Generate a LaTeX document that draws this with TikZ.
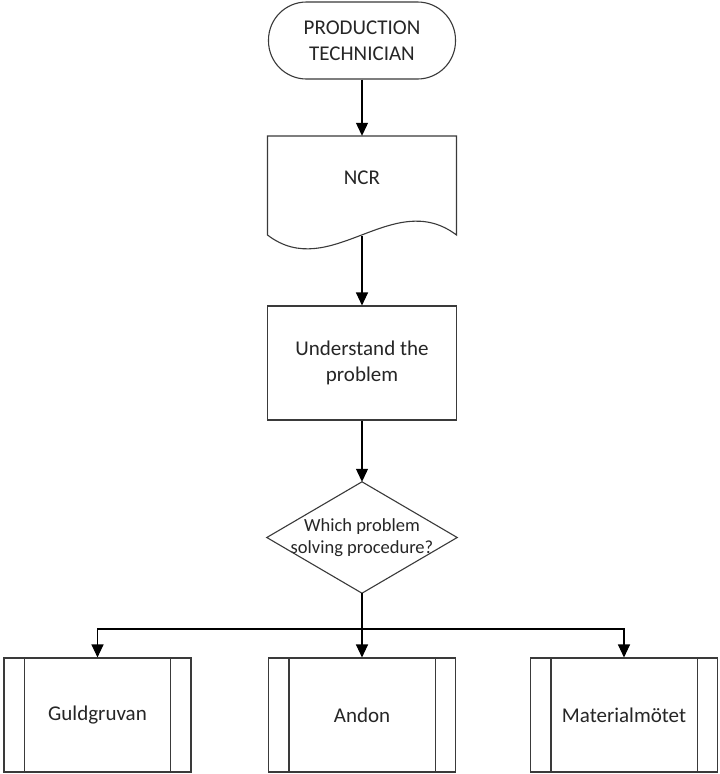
\documentclass[tikz,border=0pt]{standalone}
\usepackage{fontspec}
\setmainfont{Carlito}
\usetikzlibrary{arrows.meta}
\definecolor{edge}{HTML}{3A3A3A}
\definecolor{ink}{HTML}{262626}
\begin{document}
\begin{tikzpicture}[x=1pt,y=-1pt,
  shape line/.style={draw=edge, line width=1.1pt},
  label text/.style={text=ink, font=\fontsize{21}{26}\selectfont, align=center},
  flow/.style={draw=black, line width=1.1pt, -{Triangle[length=13pt,width=12pt]}},
  procbox/.style={shape line, label text, minimum width=187pt, minimum height=114pt, inner sep=0pt},
]
\fill[white] (0,0) rectangle (720,774);
\useasboundingbox (0,0) rectangle (720,774);

% start terminator
\node[shape line, label text, rounded corners=38pt, minimum width=187pt,
      minimum height=77pt, inner sep=0pt] (tech) at (362,40.5) {PRODUCTION\\TECHNICIAN};

% document shape with wavy bottom edge
\node[label text, minimum width=189pt, minimum height=84pt, inner sep=0pt] (ncr) at (362,178) {NCR};
\draw[shape line] (267.5,235) -- (267.5,136) -- (456.5,136) -- (456.5,235)
  .. controls (393,187) and (330,283) .. (267.5,235) -- cycle;
\coordinate (ncrout) at (362,236);

% process step
\node[shape line, label text, minimum width=189pt, minimum height=114pt, inner sep=0pt]
  (understand) at (362,363) {Understand the\\problem};

% decision
\node[text=ink, font=\fontsize{18.5}{21.5}\selectfont, align=center, minimum width=190pt,
      minimum height=111pt, inner sep=0pt] (choice) at (362,537.5) {Which problem\\solving procedure?};
\draw[shape line] (choice.north) -- (choice.east) -- (choice.south) -- (choice.west) -- cycle;

% predefined processes
\node[procbox] (gold) at (97.5,715) {Guldgruvan};
\node[procbox] (andon) at (362,715) {Andon};
\node[procbox] (material) at (624,715) {Materialmötet};
\foreach \n in {gold,andon,material} {
  \draw[shape line] ([xshift=21pt]\n.north west) -- ([xshift=21pt]\n.south west);
  \draw[shape line] ([xshift=-21pt]\n.north east) -- ([xshift=-21pt]\n.south east);
}

% connectors
\draw[flow] (tech.south) -- (ncr.north);
\draw[flow] (ncrout) -- (understand.north);
\draw[flow] (understand.south) -- (choice.north);
\coordinate (split) at (362,629);
\draw[flow] (choice.south) -- (andon.north);
\draw[flow] (split) -| (gold.north);
\draw[flow] (split) -| (material.north);
\end{tikzpicture}
\end{document}
